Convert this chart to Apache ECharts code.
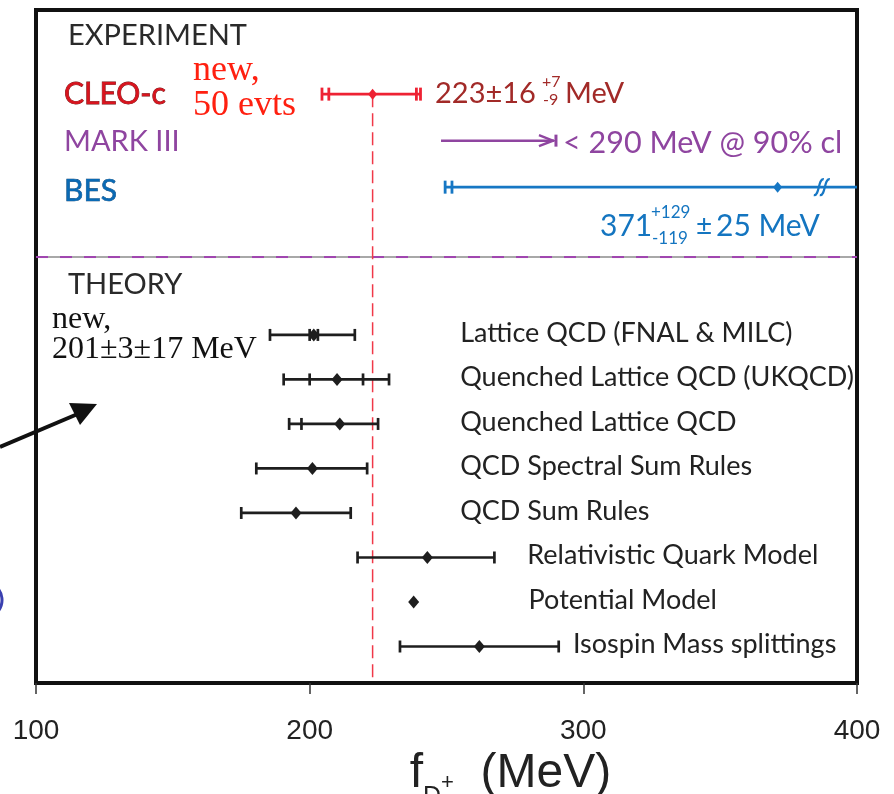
<!DOCTYPE html>
<html>
<head>
<meta charset="utf-8" />
<title>f_D+ : experiment and theory</title>
<script src="https://cdn.jsdelivr.net/npm/echarts@6/dist/echarts.min.js"></script>
<style>html, body { margin: 0; padding: 0; background: #fff; }</style>
</head>
<body>
<div id="main" style="width: 894px; height: 794px"></div>
<script type="text/javascript">
// axis
var xTicks = [100, 200, 300, 400];

// experiments (MeV)
var expNames = ['CLEO-c', 'MARK III', 'BES'];
var expCentral = [223, null, 371];
var expStatLo = [207, null, 252];
var expStatHi = [239, null, null];
var expTotLo = [204.5, 248, 249.5];
var expTotHi = [240.5, 290, 500];
var besBreak = 387.5;

// theory predictions (MeV)
var theoryNames = [
  'Lattice QCD (FNAL & MILC)',
  'Quenched Lattice QCD (UKQCD)',
  'Quenched Lattice QCD',
  'QCD Spectral Sum Rules',
  'QCD Sum Rules',
  'Relativistic Quark Model',
  'Potential Model',
  'Isospin Mass splittings'
];
var theoryCentral = [201.5, 210, 211, 201, 195, 243, 238, 262];
var theoryStatLo = [200, 200, 197, null, null, null, null, null];
var theoryStatHi = [203, 219.5, null, null, null, null, null, null];
var theoryTotLo = [185.5, 190.5, 192.5, 180.5, 175, 217.5, null, 233];
var theoryTotHi = [216.5, 229, 225, 221, 215, 267.5, null, 291];

// layout (not data)
var yMax = 15.12;
function expRow(i) { return 1.89 + i * 1.045; }
function theoryRow(i) { return 7.3 + i; }
var sepRow = 5.55;
var labelAt = [255, 255, 255, 255, 255, 279.5, 280, 296.2];

var sans = 'Lato, "Open Sans", sans-serif';
var serif = '"Liberation Serif", "DejaVu Serif", serif';
var axisFont = '"Liberation Sans", Arial, sans-serif';
var expColors = ['#ee2233', '#8f45a0', '#1677c4'];

function seg(a, b, color, w, dash) {
  return { type: 'line', shape: { x1: a[0], y1: a[1], x2: b[0], y2: b[1] },
    style: { stroke: color, lineWidth: w, lineDash: dash || null } };
}
function cap(p, h, color, w) {
  return seg([p[0], p[1] - h / 2], [p[0], p[1] + h / 2], color, w);
}
function diamond(p, rx, ry, color) {
  return { type: 'polygon', shape: { points: [[p[0], p[1] - ry], [p[0] + rx, p[1]], [p[0], p[1] + ry], [p[0] - rx, p[1]]] },
    style: { fill: color } };
}

function renderExp(params, api) {
  var i = api.value(0);
  var row = expRow(i);
  var c = expColors[i];
  var kids = [];
  var lo = api.coord([expTotLo[i], row]);
  var hi = api.coord([expTotHi[i], row]);
  if (expCentral[i] == null) {
    // upper limit: arrow
    kids.push(seg(lo, [hi[0] - 2, hi[1]], c, 2.5));
    kids.push({ type: 'polyline', shape: { points: [[hi[0] - 17, hi[1] - 5.5], [hi[0] - 3, hi[1]], [hi[0] - 17, hi[1] + 5.5]] },
      style: { stroke: c, lineWidth: 2.5, fill: null } });
    kids.push(cap(hi, 12, c, 3));
    return { type: 'group', children: kids };
  }
  kids.push(seg(lo, hi, c, 2.6));
  var m = api.coord([expCentral[i], row]);
  [expTotLo[i], expStatLo[i], expStatHi[i]].forEach(function (v) {
    if (v != null) kids.push(cap(api.coord([v, row]), 13, c, 2.8));
  });
  if (expTotHi[i] <= xTicks[xTicks.length - 1]) kids.push(cap(hi, 13, c, 2.8));
  kids.push(diamond(m, 4.5, 5.5, c));
  if (expTotHi[i] > xTicks[xTicks.length - 1]) {
    var b = api.coord([besBreak, row]);
    [-4, 2].forEach(function (d) {
      kids.push({ type: 'bezierCurve', shape: { x1: b[0] + d - 5, y1: b[1] + 8, x2: b[0] + d + 5, y2: b[1] - 8,
        cpx1: b[0] + d + 1, cpy1: b[1] + 9, cpx2: b[0] + d - 1, cpy2: b[1] - 9 },
        style: { stroke: c, lineWidth: 2.2, fill: null } });
    });
  }
  if (i === 0) {
    // reference line at the CLEO-c central value
    kids.unshift(seg(m, api.coord([expCentral[i], yMax]), '#f03848', 1.5, [13, 6]));
  }
  return { type: 'group', children: kids };
}

function renderTheory(params, api) {
  var i = api.value(0);
  var row = theoryRow(i);
  var c = '#1e1e1e';
  var kids = [];
  if (theoryTotLo[i] != null) {
    var lo = api.coord([theoryTotLo[i], row]);
    var hi = api.coord([theoryTotHi[i], row]);
    kids.push(seg(lo, hi, c, 2.7));
    [theoryTotLo[i], theoryStatLo[i], theoryStatHi[i], theoryTotHi[i]].forEach(function (v) {
      if (v != null) kids.push(cap(api.coord([v, row]), 12, c, 2.7));
    });
  }
  var m = api.coord([theoryCentral[i], row]);
  kids.push(diamond(m, 5.5, 6.5, c));
  var lp = api.coord([labelAt[i], row]);
  kids.push({ type: 'text', style: { text: theoryNames[i], x: lp[0], y: lp[1] - 2, fill: '#222',
    font: '27px ' + sans, align: 'left', verticalAlign: 'middle' } });
  return { type: 'group', children: kids };
}

function renderSep(params, api) {
  var a = api.coord([xTicks[0], sepRow]);
  var b = api.coord([xTicks[xTicks.length - 1], sepRow]);
  return { type: 'group', children: [
    seg(a, b, '#a8a8a8', 2),
    seg(a, b, '#a045b0', 2, [12, 12])
  ] };
}

function txt(x, y, s, font, fill, extra) {
  var st = { text: s, font: font, fill: fill, align: 'left', verticalAlign: 'middle' };
  if (extra) for (var k in extra) st[k] = extra[k];
  return { type: 'text', x: x, y: y, style: st, z: 10 };
}

var chart = echarts.init(document.getElementById('main'));

var option = {
  animation: false,
  grid: { left: 36, right: 37, top: 10, bottom: 111, outerBoundsMode: 'none', containLabel: false,
    show: true, borderColor: '#111', borderWidth: 4, backgroundColor: '#fff' },
  xAxis: {
    type: 'value', min: xTicks[0], max: xTicks[xTicks.length - 1], interval: 100,
    axisLine: { show: true, onZero: false, lineStyle: { color: '#111', width: 4 } },
    axisTick: { show: true, inside: false, length: 11, lineStyle: { color: '#333', width: 1.5 } },
    axisLabel: { fontSize: 28, fontFamily: axisFont, color: '#222', margin: 34 },
    splitLine: { show: false },
    name: '{f|f}{d|D}{p|+}{f|  (MeV)}',
    nameLocation: 'middle',
    nameGap: 60,
    nameTextStyle: {
      padding: [0, 0, 0, 128],
      rich: {
        f: { fontSize: 48, fontFamily: axisFont, color: '#222', padding: [0, 0, 12, 0] },
        d: { fontSize: 25, fontFamily: axisFont, color: '#222', verticalAlign: 'bottom' },
        p: { fontSize: 22, fontFamily: axisFont, color: '#222', verticalAlign: 'bottom', padding: [0, 0, 16, 0] }
      }
    }
  },
  yAxis: { type: 'value', inverse: true, min: 0, max: yMax, show: false },
  series: [
    { type: 'custom', name: 'separator', renderItem: renderSep, data: [[0]], clip: true, silent: true },
    { type: 'custom', name: 'experiment', renderItem: renderExp, data: expNames.map(function (n, i) { return [i]; }), clip: true, silent: true },
    { type: 'custom', name: 'theory', renderItem: renderTheory, data: theoryNames.map(function (n, i) { return [i]; }), clip: false, silent: true }
  ],
  graphic: [
    txt(68, 36, 'EXPERIMENT', '29px ' + sans, '#2a2a2a'),
    txt(64, 94, expNames[0], '30px ' + sans, '#d8141e', { stroke: '#6a0a0a', lineWidth: 0.8 }),
    txt(193, 71, 'new,', '36px ' + serif, '#ff2010'),
    txt(193, 106, '50 evts', '36px ' + serif, '#ff2010'),
    txt(435, 94, '223\u00b116', '29px ' + sans, '#a22a28'),
    txt(542, 82, '+7', '16px ' + sans, '#a22a28'),
    txt(543, 100, '-9', '16px ' + sans, '#a22a28'),
    txt(565, 94, 'MeV', '29px ' + sans, '#a22a28'),
    txt(64, 142, expNames[1], '29px ' + sans, '#8f45a0'),
    txt(563, 143, '< 290 MeV @ 90% cl', '30.5px ' + sans, '#8f45a0'),
    txt(64, 191, expNames[2], '30px ' + sans, '#0a6ab4', { stroke: '#073a6a', lineWidth: 0.6 }),
    txt(600, 226, '371', '30px ' + sans, '#1475c0'),
    txt(651, 213, '+129', '17px ' + sans, '#1475c0'),
    txt(652, 239, '-119', '17px ' + sans, '#1475c0'),
    txt(696, 226, '\u00b1', '28px ' + sans, '#1475c0'),
    txt(716, 226, '25 MeV', '30px ' + sans, '#1475c0'),
    txt(68, 285, 'THEORY', '29px ' + sans, '#2a2a2a'),
    txt(52, 320, 'new,', '32px ' + serif, '#111'),
    txt(52, 350, '201\u00b13\u00b117 MeV', '32px ' + serif, '#111'),
    { type: 'line', shape: { x1: 0, y1: 447, x2: 80, y2: 413 }, style: { stroke: '#111', lineWidth: 4 }, z: 10 },
    { type: 'polygon', shape: { points: [[69, 403], [97, 404], [80, 425]] }, style: { fill: '#111' }, z: 10 },
    { type: 'arc', shape: { cx: -16, cy: 600, r: 18, startAngle: -0.9, endAngle: 0.9 }, style: { stroke: '#3a40b0', lineWidth: 3, fill: null }, z: 10 }
  ]
};

chart.setOption(option);
</script>
</body>
</html>
